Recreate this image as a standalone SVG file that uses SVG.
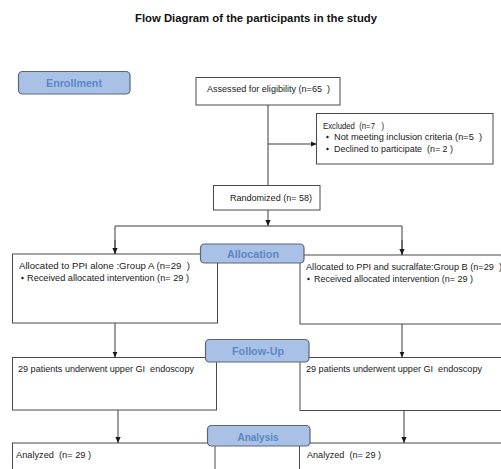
<svg xmlns="http://www.w3.org/2000/svg" width="501" height="469" viewBox="0 0 501 469" xml:space="preserve">
<defs>
<style>
.box{fill:#fff;stroke:#4a4a4a;stroke-width:1}
.lbl{fill:#a9c1e6;stroke:#5b6678;stroke-width:1.2}
.lt{font-family:"Liberation Sans",Arial,sans-serif;font-weight:bold;font-size:10.5px;fill:#5b87c5;text-anchor:middle}
.t{font-family:"Liberation Sans",Arial,sans-serif;font-size:9px;fill:#1a1a1a;white-space:pre}
.ln{fill:none;stroke:#3a3a3a;stroke-width:1}
.bul{fill:#1a1a1a}
</style>
<marker id="ah" markerUnits="userSpaceOnUse" markerWidth="6" markerHeight="6" viewBox="0 0 6 6" refX="6" refY="3" orient="auto">
<path d="M0,0.4 L6,3 L0,5.6 Z" fill="#1a1a1a"/>
</marker>
</defs>
<rect width="501" height="469" fill="#fff"/>
<text x="256" y="22" font-family="'Liberation Sans',Arial,sans-serif" font-weight="bold" font-size="11" text-anchor="middle" fill="#111" textLength="242" lengthAdjust="spacingAndGlyphs">Flow Diagram of the participants in the study</text>
<g id="assessed">
<rect class="box" x="196" y="77.5" width="144" height="27.5"/>
<text class="t" x="207" y="92" textLength="123" lengthAdjust="spacingAndGlyphs">Assessed for eligibility (n=65  )</text>
</g>
<g id="excluded">
<rect class="box" x="316.5" y="113.5" width="176.5" height="50.5"/>
<text class="t" x="323" y="129" textLength="61" lengthAdjust="spacingAndGlyphs">Excluded  (n=7   )</text>
<circle class="bul" cx="327.5" cy="137" r="1.2"/>
<text class="t" x="334" y="140" textLength="148" lengthAdjust="spacingAndGlyphs">Not meeting inclusion criteria (n=5  )</text>
<circle class="bul" cx="327.5" cy="149" r="1.2"/>
<text class="t" x="334" y="152" textLength="119" lengthAdjust="spacingAndGlyphs">Declined to participate  (n= 2 )</text>
</g>
<g id="randomized">
<rect class="box" x="213.5" y="185.5" width="106.5" height="24.5"/>
<text class="t" x="230" y="201" textLength="82" lengthAdjust="spacingAndGlyphs">Randomized (n= 58)</text>
</g>
<g id="allocA">
<rect class="box" x="12.5" y="254" width="205" height="69"/>
<text class="t" x="19" y="269" textLength="171" lengthAdjust="spacingAndGlyphs">Allocated to PPI alone :Group A (n=29  )</text>
<circle class="bul" cx="22.5" cy="278" r="1.2"/>
<text class="t" x="27" y="281" textLength="162" lengthAdjust="spacingAndGlyphs">Received allocated intervention (n= 29 )</text>
</g>
<g id="allocB">
<rect class="box" x="300" y="255" width="215" height="69"/>
<text class="t" x="306" y="270" textLength="196" lengthAdjust="spacingAndGlyphs">Allocated to PPI and sucralfate:Group B (n=29  )</text>
<circle class="bul" cx="308.5" cy="279" r="1.2"/>
<text class="t" x="314" y="282" textLength="159" lengthAdjust="spacingAndGlyphs">Received allocated intervention (n= 29 )</text>
</g>
<g id="followA">
<rect class="box" x="12.5" y="357.5" width="204" height="52.5"/>
<text class="t" x="18" y="372" textLength="176" lengthAdjust="spacingAndGlyphs">29 patients underwent upper GI  endoscopy</text>
</g>
<g id="followB">
<rect class="box" x="300" y="357.5" width="215" height="53"/>
<text class="t" x="306" y="372" textLength="176" lengthAdjust="spacingAndGlyphs">29 patients underwent upper GI  endoscopy</text>
</g>
<g id="analysisA">
<rect class="box" x="12.5" y="443" width="202.5" height="40"/>
<text class="t" x="16" y="458" textLength="75" lengthAdjust="spacingAndGlyphs">Analyzed  (n= 29 )</text>
</g>
<g id="analysisB">
<rect class="box" x="299.5" y="443" width="215" height="40"/>
<text class="t" x="307" y="458" textLength="74" lengthAdjust="spacingAndGlyphs">Analyzed  (n= 29 )</text>
</g>
<g id="connectors">
<line class="ln" x1="268" y1="105" x2="268" y2="185.5"/>
<line class="ln" x1="268" y1="144" x2="316.5" y2="144" marker-end="url(#ah)"/>
<line class="ln" x1="268" y1="210" x2="268" y2="226" marker-end="url(#ah)"/>
<polyline class="ln" points="115,254 115,226 402,226 402,255"/>
<line class="ln" x1="115" y1="240" x2="115" y2="254" marker-end="url(#ah)"/>
<line class="ln" x1="402" y1="240" x2="402" y2="255" marker-end="url(#ah)"/>
<line class="ln" x1="115" y1="323" x2="115" y2="357.5" marker-end="url(#ah)"/>
<line class="ln" x1="402" y1="324" x2="402" y2="357.5" marker-end="url(#ah)"/>
<line class="ln" x1="118" y1="410" x2="118" y2="443" marker-end="url(#ah)"/>
<line class="ln" x1="404" y1="410.5" x2="404" y2="443" marker-end="url(#ah)"/>
</g>
<g id="enrollment">
<rect class="lbl" x="18.5" y="71.5" width="111.5" height="22.5" rx="4"/>
<text class="lt" x="74" y="87" textLength="56" lengthAdjust="spacingAndGlyphs">Enrollment</text>
</g>
<g id="allocation">
<rect class="lbl" x="200.5" y="244" width="103.5" height="19" rx="4"/>
<text class="lt" x="253" y="257.5" textLength="52" lengthAdjust="spacingAndGlyphs">Allocation</text>
</g>
<g id="followup">
<rect class="lbl" x="205.5" y="339.5" width="103.5" height="22.5" rx="4"/>
<text class="lt" x="258" y="354.5" textLength="52" lengthAdjust="spacingAndGlyphs">Follow-Up</text>
</g>
<g id="analysis">
<rect class="lbl" x="207.5" y="425.5" width="102.5" height="20.5" rx="4"/>
<text class="lt" x="258" y="440.5" textLength="41" lengthAdjust="spacingAndGlyphs">Analysis</text>
</g>
</svg>
